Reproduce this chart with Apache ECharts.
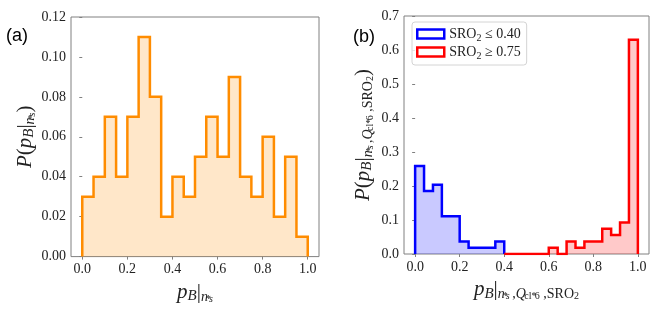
<!DOCTYPE html>
<html>
<head>
<meta charset="utf-8">
<script src="https://cdn.jsdelivr.net/npm/echarts@6/dist/echarts.min.js"></script>
<style>
html,body{margin:0;padding:0;background:#fff;}
#chart{width:665px;height:309px;}
</style>
</head>
<body>
<div id="chart"></div>
<script>
// ---- data ----
const leftBinStart = 0.0;
const leftBinWidth = 0.05;
const leftValues = [0.03, 0.04, 0.07, 0.04, 0.07, 0.11, 0.08, 0.02, 0.04, 0.03,
                    0.05, 0.07, 0.05, 0.09, 0.04, 0.03, 0.06, 0.02, 0.05, 0.01];

const rightBinWidth = 0.04;
const blueBinStart = 0.0;
const blueValues = [0.259, 0.185, 0.204, 0.111, 0.111, 0.037, 0.0185, 0.0185, 0.0185, 0.037];
const redBinStart = 0.4;
const redValues = [0, 0, 0, 0, 0, 0.0185, 0, 0.037, 0.0185, 0.037, 0.037, 0.074, 0.056, 0.093, 0.63];

const xTicks = [0.0, 0.2, 0.4, 0.6, 0.8, 1.0];
const leftYTicks = [0.00, 0.02, 0.04, 0.06, 0.08, 0.10, 0.12];
const rightYTicks = [0.0, 0.1, 0.2, 0.3, 0.4, 0.5, 0.6, 0.7];

const blueName = 'SRO2 <= 0.40';
const redName = 'SRO2 >= 0.75';
const legendTexts = { [blueName]: '{t|SRO}{s|2}{t| ≤ 0.40}', [redName]: '{t|SRO}{s|2}{t| ≥ 0.75}' };

// histogram outline built from bin edges + values
function stepPoints(start, width, values) {
  const pts = [[start, 0]];
  values.forEach((v, i) => {
    pts.push([start + i * width, v]);
    pts.push([start + (i + 1) * width, v]);
  });
  pts.push([start + values.length * width, 0]);
  return pts;
}

const serif = '"Liberation Serif", "DejaVu Serif", serif';
const textColor = '#222';
const axisGrey = '#808080';

const mathRich = {
  m:  { fontFamily: serif, fontStyle: 'italic', fontSize: 21, lineHeight: 24, verticalAlign: 'middle', color: textColor },
  r:  { fontFamily: serif, fontSize: 21, lineHeight: 24, verticalAlign: 'middle', color: textColor },
  b:  { fontFamily: serif, fontStyle: 'italic', fontSize: 15, lineHeight: 12, verticalAlign: 'bottom', color: textColor },
  n:  { fontFamily: serif, fontStyle: 'italic', fontSize: 14, lineHeight: 8, verticalAlign: 'bottom', color: textColor },
  nr: { fontFamily: serif, fontSize: 14, lineHeight: 8, verticalAlign: 'bottom', color: textColor },
  st: { fontFamily: serif, fontSize: 10, lineHeight: 20, verticalAlign: 'bottom', color: textColor, width: 1 },
  stw:{ fontFamily: serif, fontSize: 10, lineHeight: 20, verticalAlign: 'bottom', color: textColor, width: 9 },
  s2: { fontFamily: serif, fontStyle: 'italic', fontSize: 10, lineHeight: 2, verticalAlign: 'bottom', color: textColor },
  s2r:{ fontFamily: serif, fontSize: 10, lineHeight: 2, verticalAlign: 'bottom', color: textColor }
};

const leftXName = '{m|p}{b|B}{r||}{n|n}{st|*}{s2|s}';
const leftYName = '{m|P}{r|(}{m|p}{b|B}{r||}{n|n}{st|*}{s2|s}{r|)}';
const rightXName = '{m|p}{b|B}{r||}{n|n}{st|*}{s2|s }{nr|,}{n|Q}{stw|cl*}{s2r|6}{nr| ,SRO}{s2r|2}';
const rightYName = '{m|P}{r|(}{m|p}{b|B}{r||}{n|n}{st|*}{s2|s }{nr|,}{n|Q}{stw|cl*}{s2r|6}{nr| ,SRO}{s2r|2}{r|)}';

function xAxisCfg(gridIndex, nameText, nameGap) {
  return {
    type: 'value', gridIndex, min: -0.05, max: 1.05,
    name: nameText, nameLocation: 'middle', nameGap,
    nameTextStyle: { rich: mathRich },
    axisLine: { show: false },
    splitLine: { show: false },
    axisTick: { show: true, length: 3, lineStyle: { color: axisGrey }, customValues: xTicks },
    axisLabel: { customValues: xTicks, margin: 6, fontFamily: serif, fontSize: 14, color: textColor,
                 formatter: v => v.toFixed(1) }
  };
}
function yAxisCfg(gridIndex, ticks, digits, nameText, nameGap) {
  return {
    type: 'value', gridIndex, min: ticks[0], max: ticks[ticks.length - 1],
    interval: ticks[1] - ticks[0],
    name: nameText, nameLocation: 'middle', nameGap, nameRotate: 90,
    nameTextStyle: { rich: mathRich },
    axisLine: { show: false },
    splitLine: { show: false },
    axisTick: { show: true, length: 3, lineStyle: { color: axisGrey } },
    axisLabel: { margin: 5, fontFamily: serif, fontSize: 14, color: textColor,
                 formatter: v => v.toFixed(digits) }
  };
}

const chart = echarts.init(document.getElementById('chart'), null, { renderer: 'canvas' });
chart.setOption({
  animation: false,
  backgroundColor: '#fff',
  grid: [
    { left: 71, top: 17, width: 248, height: 240, show: true, borderColor: axisGrey, borderWidth: 1, backgroundColor: 'transparent' },
    { left: 404, top: 16, width: 245, height: 238, show: true, borderColor: axisGrey, borderWidth: 1, backgroundColor: 'transparent' }
  ],
  xAxis: [xAxisCfg(0, leftXName, 11), xAxisCfg(1, rightXName, 15)],
  yAxis: [yAxisCfg(0, leftYTicks, 2, leftYName, 34), yAxisCfg(1, rightYTicks, 1, rightYName, 29)],
  legend: {
    orient: 'vertical', left: 412, top: 22,
    padding: [3, 6, 4, 4],
    itemWidth: 27, itemHeight: 9, itemGap: 0, icon: 'rect',
    selectedMode: false,
    backgroundColor: 'rgba(255,255,255,0.8)', borderColor: '#d4d4d4', borderWidth: 1, borderRadius: 3,
    textStyle: {
      fontFamily: serif, fontSize: 14, color: textColor, lineHeight: 18,
      rich: {
        t: { fontFamily: serif, fontSize: 14, color: textColor, lineHeight: 18, verticalAlign: 'middle' },
        s: { fontFamily: serif, fontSize: 10, color: textColor, lineHeight: 10, verticalAlign: 'bottom' }
      }
    },
    formatter: name => legendTexts[name],
    data: [
      { name: blueName, itemStyle: { color: 'rgba(255,255,255,0)', borderColor: '#0000ff', borderWidth: 2.5 } },
      { name: redName, itemStyle: { color: 'rgba(255,255,255,0)', borderColor: '#ff0000', borderWidth: 2.5 } }
    ]
  },
  graphic: [
    { type: 'text', left: 6, top: 27, style: { text: '(a)', font: '18px "Liberation Sans", Arial, sans-serif', fill: '#000' } },
    { type: 'text', left: 353, top: 28, style: { text: '(b)', font: '18px "Liberation Sans", Arial, sans-serif', fill: '#000' } }
  ],
  series: [
    {
      type: 'line', name: 'all', xAxisIndex: 0, yAxisIndex: 0,
      data: stepPoints(leftBinStart, leftBinWidth, leftValues),
      symbol: 'none', clip: true,
      lineStyle: { color: '#ff8c00', width: 2.5, join: 'miter' },
      itemStyle: { color: '#ff8c00' },
      areaStyle: { color: 'rgba(255,140,0,0.3)', origin: 'start' }
    },
    {
      type: 'line', name: blueName, xAxisIndex: 1, yAxisIndex: 1,
      data: stepPoints(blueBinStart, rightBinWidth, blueValues),
      symbol: 'none', clip: true,
      lineStyle: { color: '#0000ff', width: 2.5, join: 'miter' },
      itemStyle: { color: '#0000ff' },
      areaStyle: { color: 'rgba(0,0,255,0.3)', origin: 'start' }
    },
    {
      type: 'line', name: redName, xAxisIndex: 1, yAxisIndex: 1,
      data: stepPoints(redBinStart, rightBinWidth, redValues),
      symbol: 'none', clip: true,
      lineStyle: { color: '#ff0000', width: 2.5, join: 'miter' },
      itemStyle: { color: '#ff0000' },
      areaStyle: { color: 'rgba(255,0,0,0.3)', origin: 'start' }
    }
  ]
});
</script>
</body>
</html>
